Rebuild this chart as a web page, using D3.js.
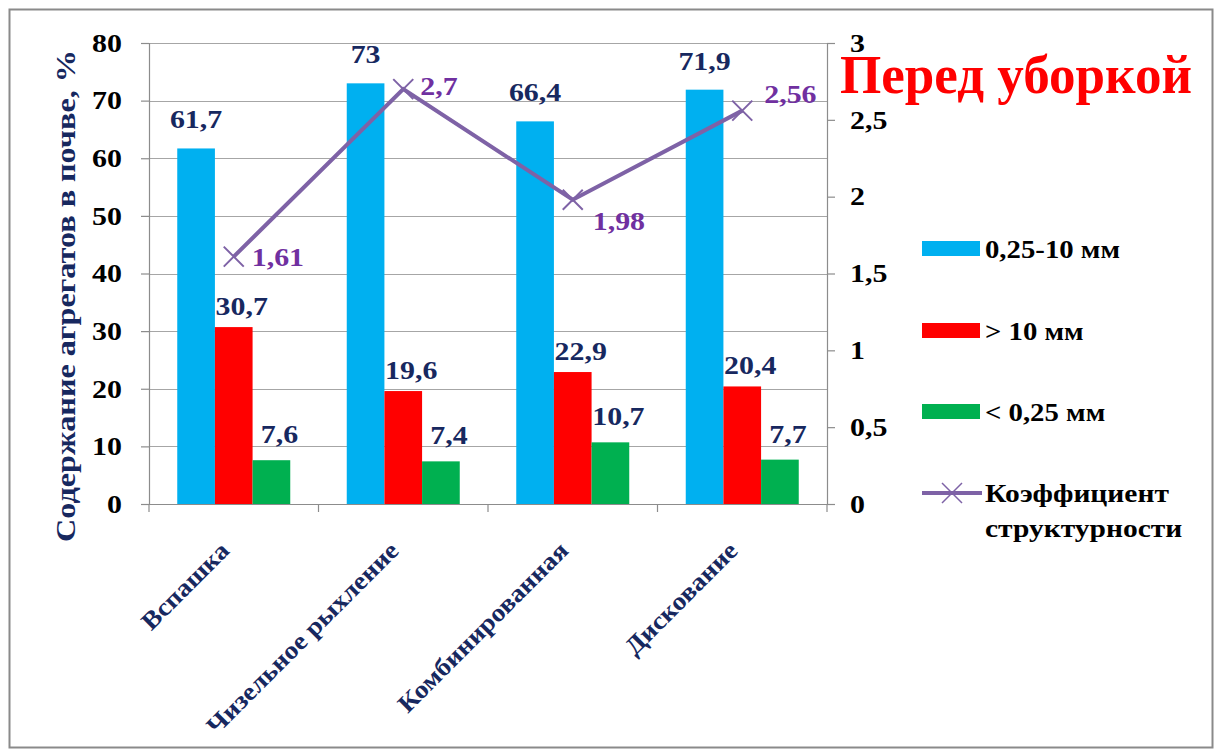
<!DOCTYPE html>
<html>
<head>
<meta charset="utf-8">
<script src="https://cdn.jsdelivr.net/npm/d3@7"></script>
</head>
<body style="margin:0; background:#fff">
<script>
const categories = ["Вспашка", "Чизельное рыхление", "Комбинированная", "Дискование"];
const seriesNames = ["0,25-10 мм", "> 10 мм", "< 0,25 мм"];
const midValues = [61.7, 73, 66.4, 71.9];
const bigValues = [30.7, 19.6, 22.9, 20.4];
const smallValues = [7.6, 7.4, 10.7, 7.7];
const coefValues = [1.61, 2.7, 1.98, 2.56];
const coefName = ["Коэффициент", "структурности"];
const leftTicks = [0, 10, 20, 30, 40, 50, 60, 70, 80];
const rightTicks = [0, 0.5, 1, 1.5, 2, 2.5, 3];

const width = 1219, height = 756;
const colors = ["#00B0F0", "#FF0000", "#00B050"];
const lineColor = "#7E62A6";
const navy = "#17285F";
const purple = "#7030A0";
const FONT = '"Liberation Serif"';
const K = 1.15; // в оригинале шрифт растянут по горизонтали

const fmt = v => String(v).replace(".", ",");

// растянуть текст по горизонтали, сохранив точку привязки
function stretch(sel, k = K) {
  sel.each(function() {
    const t = d3.select(this);
    const x = +t.attr("x") || 0;
    const tr = t.attr("transform") || "";
    t.attr("x", x / k).attr("transform", `${tr} scale(${k},1)`);
  });
}

const svg = d3.select("body").append("svg")
  .attr("width", width)
  .attr("height", height)
  .attr("font-family", FONT)
  .attr("font-weight", "bold");

// рамка
svg.append("rect")
  .attr("x", 9.5).attr("y", 9.5)
  .attr("width", 1203).attr("height", 738)
  .attr("fill", "#fff")
  .attr("stroke", "#8a8a8a")
  .attr("stroke-width", 2);

const plot = { left: 149, right: 827, top: 43, bottom: 504 };

const x = d3.scaleBand().domain(categories).range([plot.left, plot.right]);
const y = d3.scaleLinear().domain([0, 80]).range([plot.bottom, plot.top]);
const y2 = d3.scaleLinear().domain([0, 3]).range([plot.bottom, plot.top]);

const barW = x.bandwidth() / 4.5;
const x1 = d3.scaleBand().domain([0, 1, 2]).range([0, barW * 3]).padding(0);
const groupOffset = (x.bandwidth() - barW * 3) / 2;

// сетка
svg.append("g")
  .selectAll("line")
  .data(leftTicks.slice(1))
  .join("line")
  .attr("x1", plot.left).attr("x2", plot.right)
  .attr("y1", d => Math.round(y(d)) + 0.5)
  .attr("y2", d => Math.round(y(d)) + 0.5)
  .attr("stroke", "#a6a6a6")
  .attr("stroke-width", 1.2);

// левая ось
const yAxis = svg.append("g")
  .attr("transform", `translate(${plot.left},0)`)
  .call(d3.axisLeft(y).tickValues(leftTicks).tickSize(8).tickPadding(19).tickFormat(d => d));
yAxis.selectAll("path, line").attr("stroke", "#8c8c8c").attr("stroke-width", 1.2);
yAxis.selectAll("text").attr("font-size", 26).attr("fill", "#000").call(stretch);

// правая ось
const y2Axis = svg.append("g")
  .attr("transform", `translate(${plot.right},0)`)
  .call(d3.axisRight(y2).tickValues(rightTicks).tickSize(8).tickPadding(15).tickFormat(fmt));
y2Axis.selectAll("path, line").attr("stroke", "#8c8c8c").attr("stroke-width", 1.2);
y2Axis.selectAll("text").attr("font-size", 26).attr("fill", "#000").call(stretch);
svg.selectAll("g").attr("font-family", null);

// нижняя ось
const xAxis = svg.append("g")
  .attr("transform", `translate(0,${plot.bottom})`)
  .call(d3.axisBottom(x).tickSize(0).tickFormat(""));
xAxis.attr("font-family", null);
xAxis.select("path").attr("stroke", "#8c8c8c").attr("stroke-width", 1.2);
xAxis.selectAll(".sep")
  .data(d3.range(categories.length + 1))
  .join("line")
  .attr("class", "sep")
  .attr("x1", i => plot.left + i * x.bandwidth())
  .attr("x2", i => plot.left + i * x.bandwidth())
  .attr("y1", 0).attr("y2", 8)
  .attr("stroke", "#8c8c8c").attr("stroke-width", 1.2);

// подписи категорий
svg.append("g")
  .selectAll("text")
  .data(categories)
  .join("text")
  .attr("transform", d => `translate(${x(d) + x.bandwidth() / 2 - 3},${plot.bottom + 48}) rotate(-45)`)
  .attr("text-anchor", "end")
  .attr("font-size", 25)
  .attr("fill", navy)
  .text(d => d)
  .call(stretch, 1.1);

// столбцы
const series = [midValues, bigValues, smallValues];
const labelShift = [0, 8, 8];
const labelLift = [20, 12, 17];
series.forEach((vals, s) => {
  svg.append("g")
    .selectAll("rect")
    .data(vals)
    .join("rect")
    .attr("x", (d, i) => x(categories[i]) + groupOffset + x1(s))
    .attr("y", d => y(d))
    .attr("width", x1.bandwidth())
    .attr("height", d => y(0) - y(d))
    .attr("fill", colors[s]);

  svg.append("g")
    .selectAll("text")
    .data(vals)
    .join("text")
    .attr("x", (d, i) => x(categories[i]) + groupOffset + x1(s) + x1.bandwidth() / 2 + labelShift[s])
    .attr("y", d => y(d) - labelLift[s])
    .attr("text-anchor", "middle")
    .attr("font-size", 26)
    .attr("fill", navy)
    .text(d => fmt(d))
    .call(stretch);
});

// линия коэффициента
const cx = (d, i) => x(categories[i]) + x.bandwidth() / 2;
const line = d3.line().x(cx).y(d => y2(d));
svg.append("path")
  .datum(coefValues)
  .attr("d", line)
  .attr("fill", "none")
  .attr("stroke", lineColor)
  .attr("stroke-width", 4);

const m = 10;
svg.append("g")
  .selectAll("path")
  .data(coefValues)
  .join("path")
  .attr("d", (d, i) => {
    const px = cx(d, i), py = y2(d);
    return `M${px - m},${py - m}L${px + m},${py + m}M${px - m},${py + m}L${px + m},${py - m}`;
  })
  .attr("stroke", lineColor)
  .attr("stroke-width", 2);

const coefLabelPos = [
  { dx: 18, dy: 9 },
  { dx: 17, dy: 6 },
  { dx: 20, dy: 30 },
  { dx: 22, dy: -8 }
];
svg.append("g")
  .selectAll("text")
  .data(coefValues)
  .join("text")
  .attr("x", (d, i) => cx(d, i) + coefLabelPos[i].dx)
  .attr("y", (d, i) => y2(d) + coefLabelPos[i].dy)
  .attr("font-size", 26)
  .attr("fill", purple)
  .text(d => fmt(d))
  .call(stretch);

// заголовок оси
svg.append("text")
  .attr("transform", "translate(75,296) rotate(-90)")
  .attr("text-anchor", "middle")
  .attr("font-size", 28)
  .attr("fill", navy)
  .text("Содержание агрегатов в почве, %")
  .call(stretch);

// надпись
svg.append("text")
  .attr("x", 840)
  .attr("y", 93)
  .attr("font-size", 54)
  .attr("textLength", 352)
  .attr("lengthAdjust", "spacingAndGlyphs")
  .attr("fill", "#FF0000")
  .text("Перед уборкой");

// легенда
const legend = svg.append("g").attr("transform", "translate(922,0)");
const legendY = [249, 331, 412];
seriesNames.forEach((name, i) => {
  legend.append("rect")
    .attr("x", 0).attr("y", legendY[i] - 8)
    .attr("width", 58).attr("height", 15)
    .attr("fill", colors[i]);
  legend.append("text")
    .attr("x", 63).attr("y", legendY[i] + 9)
    .attr("font-size", 25)
    .attr("fill", "#000")
    .text(name)
    .call(stretch);
});
legend.append("line")
  .attr("x1", 0).attr("x2", 60)
  .attr("y1", 493).attr("y2", 493)
  .attr("stroke", lineColor).attr("stroke-width", 4);
legend.append("path")
  .attr("d", `M${30 - m},${493 - m}L${30 + m},${493 + m}M${30 - m},${493 + m}L${30 + m},${493 - m}`)
  .attr("stroke", lineColor).attr("stroke-width", 1.5);
legend.append("text")
  .attr("x", 63).attr("y", 502)
  .attr("font-size", 25)
  .attr("fill", "#000")
  .text(coefName[0])
  .call(stretch, 1.18);
legend.append("text")
  .attr("x", 63).attr("y", 537)
  .attr("font-size", 25)
  .attr("fill", "#000")
  .text(coefName[1])
  .call(stretch, 1.18);

// шрифт как в оригинале (Times)
svg.selectAll("text")
  .attr("font-family", FONT)
  .style("font-family", FONT, "important")
  .style("font-weight", "bold");
</script>
</body>
</html>
